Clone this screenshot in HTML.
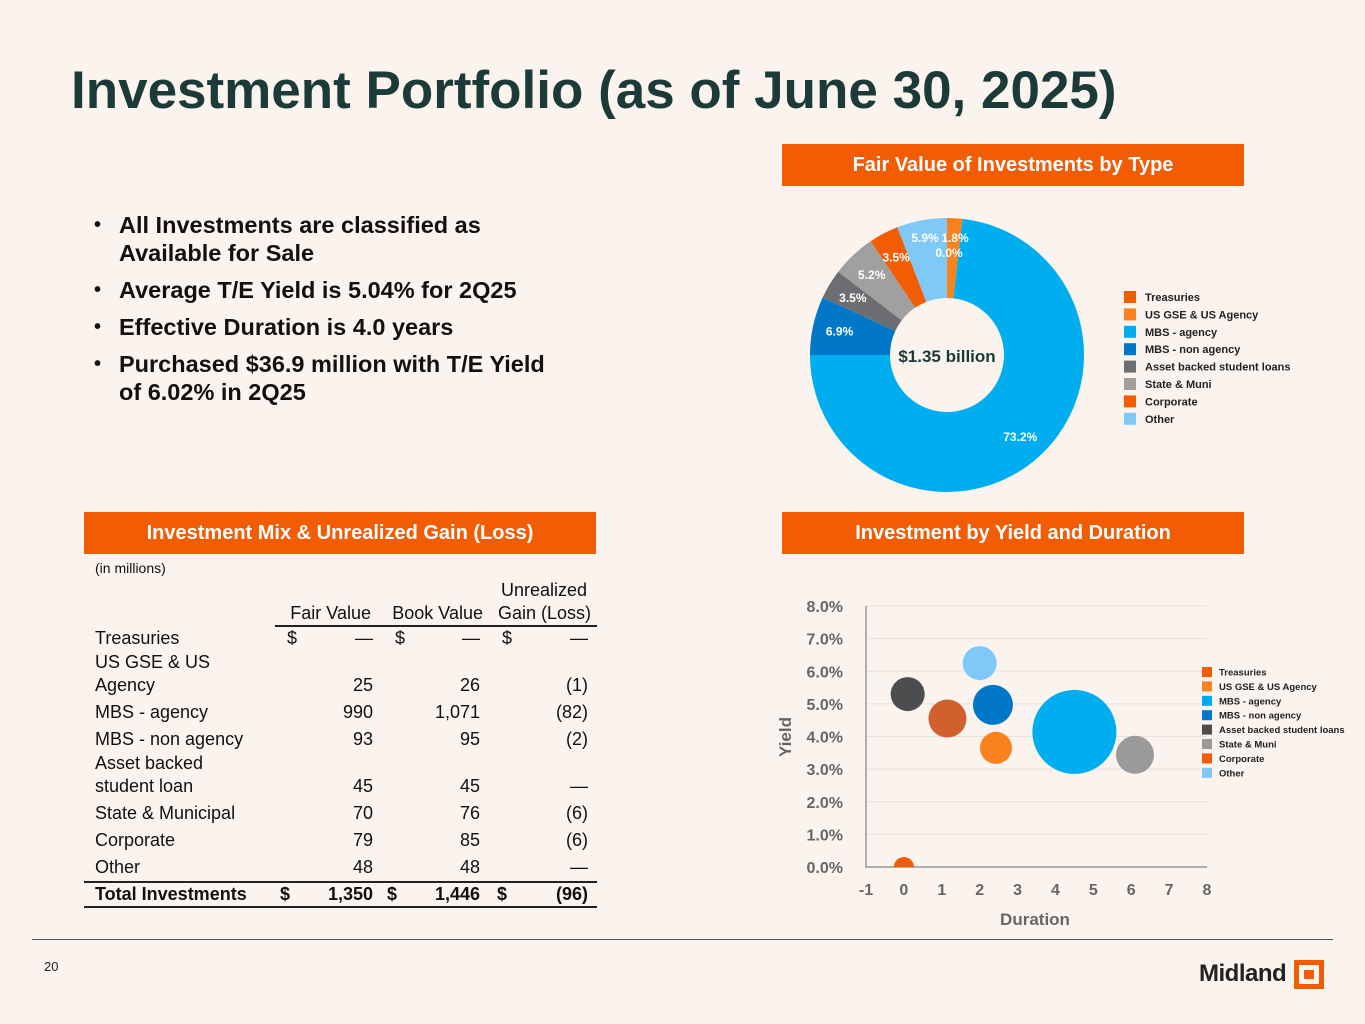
<!DOCTYPE html>
<html><head><meta charset="utf-8">
<style>
body{margin:0;}
#page{position:relative;width:1365px;height:1024px;background:#FBF3ED;overflow:hidden;font-family:"Liberation Sans",sans-serif;color:#111;}
.abs{position:absolute;}
.hdr{position:absolute;background:#F25C05;color:#fff;font-weight:bold;font-size:20px;text-align:center;line-height:42px;height:42px;}
ul{margin:0;padding:0;list-style:none;}
li{position:relative;padding-left:25px;font-weight:bold;font-size:23.5px;line-height:28px;margin-bottom:9px;color:#111;}
li:before{content:"•";position:absolute;left:0;font-size:20px;}
.t{position:absolute;font-size:18px;white-space:nowrap;}
.r{text-align:right;}
</style></head>
<body>
<div id="page">
<div class="abs" style="left:71px;top:60px;font-size:53px;font-weight:bold;color:#1C3A37;white-space:nowrap;">Investment Portfolio (as of June 30, 2025)</div>

<ul class="abs" style="left:94px;top:211px;width:470px;">
<li>All Investments are classified as Available for Sale</li>
<li>Average T/E Yield is 5.04% for 2Q25</li>
<li>Effective Duration is 4.0 years</li>
<li>Purchased $36.9 million with T/E Yield of 6.02% in 2Q25</li>
</ul>

<div class="hdr" style="left:782px;top:144px;width:462px;">Fair Value of Investments by Type</div>
<div class="hdr" style="left:84px;top:512px;width:512px;">Investment Mix &amp; Unrealized Gain (Loss)</div>
<div class="hdr" style="left:782px;top:512px;width:462px;">Investment by Yield and Duration</div>

<svg class="abs" style="left:0;top:0" width="1365" height="1024">
<g id="donut"></g>
<g id="donutLegend"></g>
<g id="scatter"></g>
<g id="scatterLegend"></g>
</svg>

<div>
<div class="t" style="left:95px;top:560px;font-size:14px;">(in millions)</div>
<div class="t r" style="left:480px;top:580px;width:107px;">Unrealized</div>
<div class="t r" style="left:270px;top:603px;width:101px;">Fair Value</div>
<div class="t r" style="left:375px;top:603px;width:108px;">Book Value</div>
<div class="t r" style="left:480px;top:603px;width:111px;">Gain (Loss)</div>
<div class="abs" style="left:275px;top:625px;width:322px;height:1.5px;background:#222;"></div>
<div id="rows"></div>
<div class="abs" style="left:84px;top:881px;width:513px;height:1.5px;background:#222;"></div>
<div class="abs" style="left:84px;top:906px;width:513px;height:1.5px;background:#222;"></div>
</div>

<div class="abs" style="left:32px;top:939px;width:1301px;height:1px;background:#555;"></div>
<div class="abs" style="left:44px;top:959px;font-size:13px;color:#222;">20</div>
<div class="abs" style="left:1199px;top:960px;font-size:24px;font-weight:bold;color:#222;letter-spacing:-0.5px;">Midland</div>
<div class="abs" style="left:1294px;top:960px;width:20px;height:19px;border:5px solid #F25C05;background:#FBF3ED;"><div style="margin:5px;width:10px;height:9px;background:#F25C05;"></div></div>
</div>

<script>
// ---- Donut data ----
const donutLabels = ["Treasuries","US GSE & US Agency","MBS - agency","MBS - non agency","Asset backed student loans","State & Muni","Corporate","Other"];
const donutValues = [0.0, 1.8, 73.2, 6.9, 3.5, 5.2, 3.5, 5.9];
const donutColors = ["#F25C05","#F7821E","#00AEEF","#0077C8","#6D6E71","#A0A0A0","#F25C05","#7FC8F8"];
// ---- Scatter data ----
const scatterLabels = ["Treasuries","US GSE & US Agency","MBS - agency","MBS - non agency","Asset backed student loans","State & Muni","Corporate","Other"];
const scatterDuration = [0.0, 2.43, 4.5, 2.35, 0.1, 6.1, 1.15, 2.0];
const scatterYield = [0.0, 3.65, 4.14, 4.97, 5.3, 3.44, 4.55, 6.25];
const scatterSize = [10, 16, 42, 20, 17, 19, 19, 17];
const scatterColors = ["#F25C05","#F7821E","#00AEEF","#0077C8","#4D4D4F","#9A9A9A","#D2602E","#7FC8F8"];
const yTicks = [0,1,2,3,4,5,6,7,8];
const xTicks = [-1,0,1,2,3,4,5,6,7,8];
// ---- Table data ----
const tableLabels = [["Treasuries"],["US GSE & US","Agency"],["MBS - agency"],["MBS - non agency"],["Asset backed","student loan"],["State & Municipal"],["Corporate"],["Other"]];
const fairValues = ["—","25","990","93","45","70","79","48"];
const bookValues = ["—","26","1,071","95","45","76","85","48"];
const gainValues = ["—","(1)","(82)","(2)","—","(6)","(6)","—"];

const NS="http://www.w3.org/2000/svg";
function mk(tag,attrs,parent){const e=document.createElementNS(NS,tag);for(const k in attrs)e.setAttribute(k,attrs[k]);parent.appendChild(e);return e;}

// Donut
const cx=947,cy=355,R=137,r0=57;
const dg=document.getElementById('donut');
const total=donutValues.reduce((a,b)=>a+b,0);
let acc=0;
function pt(a,rr){return [cx+rr*Math.sin(a),cy-rr*Math.cos(a)];}
const labelLayer=[];
donutValues.forEach((v,i)=>{
  const a0=acc/total*2*Math.PI; acc+=v; const a1=acc/total*2*Math.PI;
  if(v>0){
    const large=(a1-a0)>Math.PI?1:0;
    const p0=pt(a0,R),p1=pt(a1,R),q1=pt(a1,r0),q0=pt(a0,r0);
    const p=mk('path',{d:`M${p0[0]},${p0[1]}A${R},${R} 0 ${large} 1 ${p1[0]},${p1[1]}L${q1[0]},${q1[1]}A${r0},${r0} 0 ${large} 0 ${q0[0]},${q0[1]}Z`,fill:donutColors[i]},dg);
    
    
  }
  const am=(a0+a1)/2;
  let lp=pt(am,110);
  if(i===0){lp=[949,253];} else if(i===1){lp=[955,238];} else if(i===7){lp=[925,238];}
  labelLayer.push([v,lp]);
});
labelLayer.forEach(([v,lp])=>{
  const t=mk('text',{x:lp[0],y:lp[1]+4,'text-anchor':'middle','font-size':12,'font-weight':'bold',fill:'#fff'},dg);
  t.textContent=v.toFixed(1)+'%';
  
  
});
const ct=mk('text',{x:cx,y:cy+7,'text-anchor':'middle','font-size':17,'font-weight':'bold',fill:'#1C3A37'},dg);
ct.textContent='$1.35 billion';


const dl=document.getElementById('donutLegend');
donutLabels.forEach((l,i)=>{
  const y=297+i*17.4;
  const s=mk('rect',{x:1124,y:y-6,width:12,height:12,fill:donutColors[i]},dl);
  
  
  const t=mk('text',{x:1145,y:y+4,'font-size':11,'font-weight':'bold',fill:'#222'},dl);
  t.textContent=l;
  
  
});

// Scatter
const sg=document.getElementById('scatter');
const X0=866,X1=1207,Y0=867,Y1=606;
const xs=d=>X0+(d-(-1))/9*(X1-X0);
const ys=v=>Y0-v/8*(Y0-Y1);
yTicks.forEach(v=>{
  if(v>0){const gl=mk('line',{x1:X0,x2:X1,y1:ys(v),y2:ys(v),stroke:'#E8E2DC','stroke-width':1},sg);
  
  }
  const t=mk('text',{x:843,y:ys(v)+6,'text-anchor':'end','font-size':16,'font-weight':'bold',fill:'#666'},sg);
  t.textContent=v.toFixed(1)+'%';
  
  
});
xTicks.forEach(v=>{
  const t=mk('text',{x:xs(v),y:895,'text-anchor':'middle','font-size':16,'font-weight':'bold',fill:'#666'},sg);
  t.textContent=v;
  
  
});
const ax=mk('path',{d:`M${X0},${Y1}V${Y0}H${X1}`,fill:'none',stroke:'#999','stroke-width':1.5},sg);


const xt=mk('text',{x:1035,y:925,'text-anchor':'middle','font-size':17,'font-weight':'bold',fill:'#666'},sg);
xt.textContent='Duration';


const yt=mk('text',{x:0,y:0,'text-anchor':'middle','font-size':17,'font-weight':'bold',fill:'#666',transform:'translate(791,737) rotate(-90)'},sg);
yt.textContent='Yield';


const clip=mk('clipPath',{id:'plotclip'},sg);
mk('rect',{x:X0-60,y:Y1-60,width:X1-X0+120,height:Y0-Y1+60},clip);
const bg=mk('g',{'clip-path':'url(#plotclip)'},sg);
scatterDuration.forEach((d,i)=>{
  const c=mk('circle',{cx:xs(d),cy:ys(scatterYield[i]),r:scatterSize[i],fill:scatterColors[i]},bg);
  
  
});
const sl=document.getElementById('scatterLegend');
scatterLabels.forEach((l,i)=>{
  const y=672+i*14.4;
  const s=mk('rect',{x:1202,y:y-5,width:10,height:10,fill:i==6?'#F25C05':scatterColors[i]},sl);
  
  
  const t=mk('text',{x:1219,y:y+3.5,'font-size':9.5,'font-weight':'bold',fill:'#222'},sl);
  t.textContent=l;
  
  
});

// Table rows
const rowsEl=document.getElementById('rows');
const rowTops=[628,652,702,729,753,803,830,857];
function cell(txt,left,top,w,right,bold){const d=document.createElement('div');d.className='t'+(right?' r':'');d.style.left=left+'px';d.style.top=top+'px';if(w)d.style.width=w+'px';if(bold)d.style.fontWeight='bold';d.textContent=txt;rowsEl.appendChild(d);return d;}
tableLabels.forEach((lines,i)=>{
  const top=rowTops[i];
  lines.forEach((ln,j)=>{const c=cell(ln,95,top+j*23,0,false);
    
    });
  const vt=top+(lines.length-1)*23;
  if(i===0){[287,395,502].forEach(x=>cell('$',x,vt,0,false));}
  const f=cell(fairValues[i],300,vt,73,true);
  
  
  const b=cell(bookValues[i],400,vt,80,true);
  
  
  const g=cell(gainValues[i],500,vt,88,true);
  
  
});
const tl=cell('Total Investments',95,884,0,false,true);


[[280,'$'],[387,'$'],[497,'$']].forEach(p=>cell(p[1],p[0],884,0,false,true));
cell('1,350',300,884,73,true,true);
cell('1,446',400,884,80,true,true);
cell('(96)',500,884,88,true,true);
</script>
</body></html>
